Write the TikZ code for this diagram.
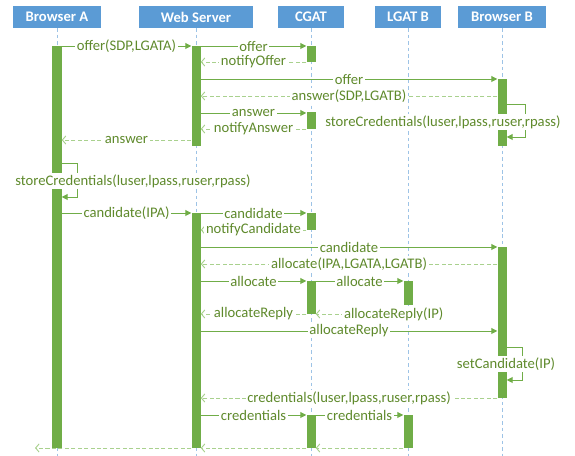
\documentclass[tikz,border=0pt]{standalone}
\usepackage{fontspec}
\setmainfont{Carlito}
\usetikzlibrary{arrows.meta}

\definecolor{headblue}{HTML}{5B9BD5}
\definecolor{lifeblue}{HTML}{9DC3E6}
\definecolor{actgreen}{HTML}{70AD47}
\definecolor{replygreen}{HTML}{A9D18E}
\definecolor{lbltext}{HTML}{5F8A2C}

\tikzset{
  head/.style={rectangle, fill=headblue, text=white, font=\bfseries\fontsize{12.5}{14}\selectfont, minimum height=0.66cm, inner sep=0pt},
  lifeline/.style={lifeblue, line width=0.8pt, dash pattern=on 3pt off 2.5pt},
  actbox/.style={rectangle, fill=actgreen, minimum width=0.27cm, inner sep=0pt},
  callline/.style={actgreen, line width=0.8pt, -{Triangle[length=5pt,width=5pt]}},
  replyline/.style={replygreen, line width=0.8pt, dash pattern=on 3.5pt off 2pt, -{Straight Barb[length=3pt,width=7pt]}},
  lbl/.style={fill=white, text=lbltext, font=\fontsize{12.5}{14}\selectfont, inner xsep=1.5pt, inner ysep=1pt}
}

% activation bar: name, x, top, bottom
\newcommand{\actbar}[4]{\node[actbox, minimum height={(#4-#3)*0.03cm}] (#1) at (#2,{(#3+#4)/2}) {};}
% messages: [label opts], from, to, y, label
\newcommand{\callmsg}[5][]{\draw[callline] (#2 |- 0,#4) -- node[lbl,#1]{#5} (#3 |- 0,#4);}
\newcommand{\replymsg}[5][]{\draw[replyline] (#2 |- 0,#4) -- node[lbl,#1]{#5} (#3 |- 0,#4);}

\begin{document}
\begin{tikzpicture}[x=0.03cm, y=-0.03cm]
    \useasboundingbox (0,0) rectangle (575,456);

    % Participants
    \node[head, minimum width=2.64cm] (brA) at (57,17) {Browser A};
    \node[head, minimum width=3.39cm] (web) at (196,17) {Web Server};
    \node[head, minimum width=1.98cm] (cgat) at (311,17) {CGAT};
    \node[head, minimum width=1.98cm] (lgb) at (408,17) {LGAT B};
    \node[head, minimum width=2.64cm] (brB) at (502,17) {Browser B};

    % Lifelines
    \coordinate (bottom) at (0,456);
    \foreach \n in {brA,web,cgat,lgb,brB}
        \draw[lifeline] (\n.south) -- (\n.south |- bottom);

    % Activations
    \actbar{a1}{57}{46}{448}
    \actbar{w1}{196}{46}{146}
    \actbar{w2}{196}{213}{448}
    \actbar{c1}{311}{46}{62}
    \actbar{c2}{311}{112}{129}
    \actbar{c3}{311}{213}{230}
    \actbar{c4}{311}{281}{314}
    \actbar{c5}{311}{415}{448}
    \actbar{l1}{408}{281}{305}
    \actbar{l2}{408}{415}{448}
    \actbar{b1}{502}{79}{146}
    \actbar{b2}{502}{247}{398}

    % Offer / answer
    \callmsg{a1.east}{w1.west}{46}{offer(SDP,LGATA)}
    \callmsg{w1.east}{c1.west}{46}{offer}
    \replymsg{c1.west}{w1.east}{62}{notifyOffer}
    \callmsg{w1.east}{b1.west}{79}{offer}
    \replymsg{b1.west}{w1.east}{96}{answer(SDP,LGATB)}
    \callmsg{w1.east}{c2.west}{113}{answer}
    \replymsg{c2.west}{w1.east}{129}{notifyAnswer}
    \replymsg{w1.west}{a1.east}{140}{answer}

    \draw[callline] (b1.east |- 0,104) -- ++(19,0) |- (b1.east |- 0,137);
    \node[lbl] (storeB) at (443,122) {storeCredentials(luser,lpass,ruser,rpass)};
    \draw[callline] (a1.east |- 0,163) -- ++(16,0) |- (a1.east |- 0,197);
    \node[lbl] (storeA) at (133,181) {storeCredentials(luser,lpass,ruser,rpass)};

    % Candidates
    \callmsg{a1.east}{w2.west}{213}{candidate(IPA)}
    \callmsg{w2.east}{c3.west}{213}{candidate}
    \replymsg{c3.west}{w2.east}{230}{notifyCandidate}
    \callmsg{w2.east}{b2.west}{247}{candidate}
    \replymsg{b2.west}{w2.east}{264}{allocate(IPA,LGATA,LGATB)}
    \callmsg{w2.east}{c4.west}{281}{allocate}
    \callmsg{c4.east}{l1.west}{281}{allocate}
    \replymsg[pos=0.11]{l1.west}{c4.east}{314}{allocateReply(IP)}
    \replymsg{c4.west}{w2.east}{314}{allocateReply}
    \callmsg{w2.east}{b2.west}{331}{allocateReply}

    \draw[callline] (b2.east |- 0,347) -- ++(16,0) |- (b2.east |- 0,380);
    \node[lbl] (setC) at (506,364) {setCandidate(IP)};

    % Credentials
    \replymsg{b2.west}{w2.east}{398}{credentials(luser,lpass,ruser,rpass)}
    \callmsg{w2.east}{c5.west}{415}{credentials}
    \callmsg{c5.east}{l2.west}{415}{credentials}

    \coordinate (leftend) at (35,448);
    \draw[replyline] (l2.west |- 0,448) -- (c5.east |- 0,448);
    \draw[replyline] (c5.west |- 0,448) -- (w2.east |- 0,448);
    \draw[replyline] (w2.west |- 0,448) -- (leftend);
\end{tikzpicture}
\end{document}
